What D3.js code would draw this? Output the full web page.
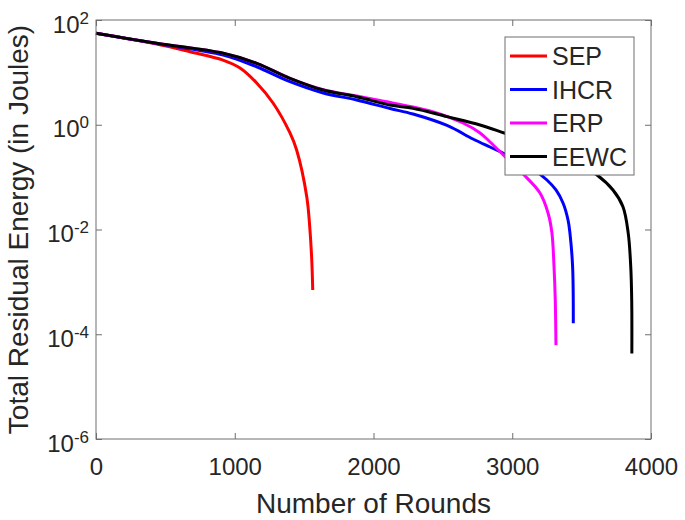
<!DOCTYPE html>
<html>
<head>
<meta charset="utf-8">
<script src="https://cdn.jsdelivr.net/npm/d3@7"></script>
<style>
  body { margin: 0; background: #fff; }
  text { font-family: 'Liberation Sans', Arial, sans-serif; fill: #262626; }
</style>
</head>
<body>
<div id="chart"></div>
<script>
// values (rounds, total residual energy in J)
const seriesNames = ['SEP', 'IHCR', 'ERP', 'EEWC']
const seriesColors = ['#ff0000', '#0000ff', '#ff00ff', '#000000']

const roundsSEP = [0, 437, 677, 915, 1038, 1158, 1276, 1398, 1446, 1519, 1542, 1555, 1562]
const energySEP = [55.7, 34.8, 24.8, 17.2, 12.1, 6.27, 2.6, 0.697, 0.33, 0.0423, 0.0098, 0.00262, 0.0007]

const roundsIHCR = [0, 437, 917, 1158, 1398, 1638, 1879, 2119, 2285, 2530, 2717, 2840, 2933, 3128, 3250, 3315, 3366, 3402, 3416, 3435, 3440]
const energyIHCR = [55.7, 35.6, 21.5, 12.8, 6.64, 4.04, 2.97, 2.04, 1.6, 0.968, 0.535, 0.376, 0.289, 0.156, 0.0881, 0.0568, 0.032, 0.0152, 0.00845, 0.00195, 0.000162]

const roundsERP = [0, 437, 917, 1158, 1398, 1638, 1879, 2047, 2407, 2645, 2768, 2840, 2963, 3078, 3200, 3258, 3286, 3301, 3310, 3315]
const energyERP = [55.7, 35.9, 23.1, 14.9, 7.71, 4.67, 3.54, 2.9, 1.83, 1.08, 0.697, 0.469, 0.225, 0.115, 0.0498, 0.0207, 0.00857, 0.00195, 0.00045, 0.000062]

const roundsEEWC = [0, 437, 917, 1158, 1398, 1638, 1879, 2119, 2285, 2530, 2768, 2948, 3200, 3402, 3611, 3726, 3798, 3836, 3854, 3861, 3862]
const energyEEWC = [55.7, 35.9, 23.1, 14.9, 7.71, 4.6, 3.43, 2.38, 2.06, 1.43, 0.99, 0.687, 0.41, 0.232, 0.11, 0.0568, 0.0272, 0.00845, 0.00195, 0.00045, 0.000043]

const xTicks = [0, 1000, 2000, 3000, 4000]
const yTicks = [1e-6, 1e-4, 1e-2, 1e0, 1e2]
const yTickExponents = ['-6', '-4', '-2', '0', '2']

const margin = { top: 20, right: 34, bottom: 81, left: 96 }
const width = 685 - margin.left - margin.right
const height = 520 - margin.top - margin.bottom

const svg = d3
  .select('#chart')
  .append('svg')
  .attr('width', width + margin.left + margin.right)
  .attr('height', height + margin.top + margin.bottom)
  .append('g')
  .attr('transform', 'translate(' + margin.left + ',' + margin.top + ')')

const xPositionScale = d3.scaleLinear().domain([0, 4000]).range([0, width])
const yPositionScale = d3.scaleLog().domain([1e-6, 1e2]).range([height, 0])

const series = [
  { rounds: roundsSEP, energy: energySEP },
  { rounds: roundsIHCR, energy: energyIHCR },
  { rounds: roundsERP, energy: energyERP },
  { rounds: roundsEEWC, energy: energyEEWC }
].map((s, i) => ({
  name: seriesNames[i],
  color: seriesColors[i],
  points: s.rounds.map((r, j) => ({ r: r, e: s.energy[j] }))
}))

const line = d3
  .line()
  .x(d => xPositionScale(d.r))
  .y(d => yPositionScale(d.e))
  .curve(d3.curveCatmullRom.alpha(0.5))

// axes: inward ticks on all four sides
const axisColor = '#6e6e6e'

svg
  .append('g')
  .attr('class', 'axis x-axis')
  .attr('transform', 'translate(0,' + height + ')')
  .call(
    d3
      .axisBottom(xPositionScale)
      .tickValues(xTicks)
      .tickSizeInner(-6)
      .tickSizeOuter(0)
      .tickPadding(19)
      .tickFormat(d3.format('d'))
  )

svg
  .append('g')
  .attr('class', 'axis')
  .call(d3.axisTop(xPositionScale).tickValues(xTicks).tickSizeInner(-6).tickSizeOuter(0).tickFormat(''))

svg
  .append('g')
  .attr('class', 'axis')
  .call(d3.axisLeft(yPositionScale).tickValues(yTicks).tickSizeInner(-6).tickSizeOuter(0).tickFormat(''))

svg
  .append('g')
  .attr('class', 'axis')
  .attr('transform', 'translate(' + width + ',0)')
  .call(d3.axisRight(yPositionScale).tickValues(yTicks).tickSizeInner(-6).tickSizeOuter(0).tickFormat(''))

svg.selectAll('.axis .domain').remove()
svg.selectAll('.axis line').attr('stroke', axisColor)
svg
  .selectAll('.x-axis text')
  .attr('font-size', 24)
  .attr('font-family', "'Liberation Sans', Arial, sans-serif")
  .attr('fill', '#262626')

// y tick labels as 10^n
const yLabels = svg
  .selectAll('.y-label')
  .data(yTicks)
  .enter()
  .append('text')
  .attr('class', 'y-label')
  .attr('text-anchor', 'end')
  .attr('x', -7)
  .attr('y', d => yPositionScale(d) + 12.5)
  .attr('font-size', 24)

yLabels.append('tspan').text('10')
yLabels
  .append('tspan')
  .attr('font-size', 17)
  .attr('dy', -9)
  .text((d, i) => yTickExponents[i])

// lines
svg
  .selectAll('.series')
  .data(series)
  .enter()
  .append('path')
  .attr('class', 'series')
  .attr('d', d => line(d.points))
  .attr('fill', 'none')
  .attr('stroke', d => d.color)
  .attr('stroke-width', 3)
  .attr('stroke-linejoin', 'round')

// box
svg
  .append('rect')
  .attr('width', width)
  .attr('height', height)
  .attr('fill', 'none')
  .attr('stroke', axisColor)
  .attr('stroke-width', 1)

// axis titles
svg
  .append('text')
  .text('Number of Rounds')
  .attr('text-anchor', 'middle')
  .attr('font-size', 28)
  .attr('x', width / 2)
  .attr('y', height + 74)

svg
  .append('text')
  .text('Total Residual Energy (in Joules)')
  .attr('text-anchor', 'middle')
  .attr('font-size', 28)
  .attr('transform', 'translate(' + (27.5 - margin.left) + ',' + height / 2 + ') rotate(-90)')

// legend
const legend = svg.append('g').attr('transform', 'translate(' + (505 - margin.left) + ',' + (37 - margin.top) + ')')

legend
  .append('rect')
  .attr('width', 129)
  .attr('height', 138)
  .attr('fill', '#fff')
  .attr('stroke', axisColor)
  .attr('stroke-width', 1)

const legendItems = legend
  .selectAll('.legend-item')
  .data(series)
  .enter()
  .append('g')
  .attr('class', 'legend-item')
  .attr('transform', (d, i) => 'translate(0,' + (19 + i * 33.5) + ')')

legendItems
  .append('line')
  .attr('x1', 5)
  .attr('x2', 42)
  .attr('stroke', d => d.color)
  .attr('stroke-width', 3)

legendItems
  .append('text')
  .text(d => d.name)
  .attr('x', 47)
  .attr('y', 9)
  .attr('font-size', 25)
</script>
</body>
</html>
